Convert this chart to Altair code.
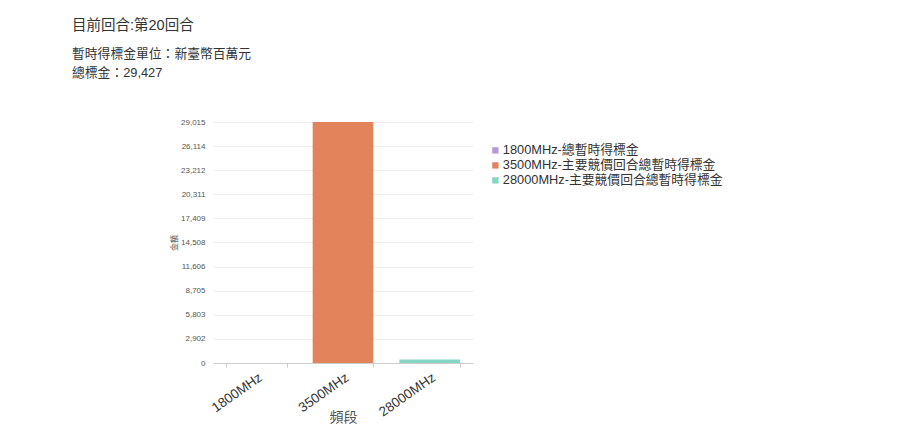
import altair as alt
import pandas as pd

bands = ["1800MHz", "3500MHz", "28000MHz"]
series = ["1800MHz-總暫時得標金", "3500MHz-主要競價回合總暫時得標金", "28000MHz-主要競價回合總暫時得標金"]
values = [0, 29015, 412]
colors = ["#b59bd0", "#e2835b", "#86d6c4"]
tick_values = [0, 2902, 5803, 8705, 11606, 14508, 17409, 20311, 23212, 26114, 29015]

df = pd.DataFrame({"band": bands, "series": series, "value": values})

FONT = "Liberation Sans, Noto Sans CJK TC, sans-serif"

chart = alt.Chart(df).mark_bar().encode(
    x=alt.X("band:N", sort=bands, title="頻段",
            scale=alt.Scale(paddingInner=0.3, paddingOuter=0.15),
            axis=alt.Axis(labelAngle=325, labelAlign="right", labelBaseline="top",
                          labelFontSize=13.5, labelColor="#333", labelPadding=3,
                          titleFontSize=14, titleFontWeight="normal", titleColor="#555",
                          titlePadding=-8, domainColor="#ccc", tickColor="#ccc",
                          tickBand="extent", tickSize=4, grid=False)),
    y=alt.Y("value:Q", title="金額",
            scale=alt.Scale(domain=[0, 29015], nice=False),
            axis=alt.Axis(values=tick_values, format=",d", labelFontSize=8,
                          labelColor="#555", labelPadding=8, domain=False, ticks=False,
                          gridColor="#eeeeee", titleFontSize=8, titleFontWeight="normal",
                          titleColor="#555", titlePadding=2)),
    color=alt.Color("series:N", sort=series,
                    scale=alt.Scale(domain=series, range=colors),
                    legend=alt.Legend(title=None, orient="none", legendX=276, legendY=22,
                                      padding=0, symbolType="square", symbolSize=40,
                                      symbolStrokeWidth=0, labelFontSize=12.8,
                                      labelColor="#333", rowPadding=1, labelOffset=1,
                                      labelLimit=400)),
).properties(
    width=260,
    height=241,
    autosize=alt.AutoSizeParams(type="none"),
    padding={"left": 205, "top": 114, "right": 410, "bottom": 78},
    title=alt.TitleParams(
        text="目前回合:第20回合",
        subtitle=["暫時得標金單位：新臺幣百萬元", "總標金：29,427"],
        anchor="start", frame="group", dx=-141, offset=37,
        fontSize=14.5, fontWeight="normal", color="#333",
        subtitleFontSize=12.8, subtitleColor="#333", subtitlePadding=15,
        subtitleLineHeight=19,
    ),
).configure(font=FONT).configure_view(stroke=None)

chart.save("out.html", embed_options={"renderer": "svg", "actions": False})
